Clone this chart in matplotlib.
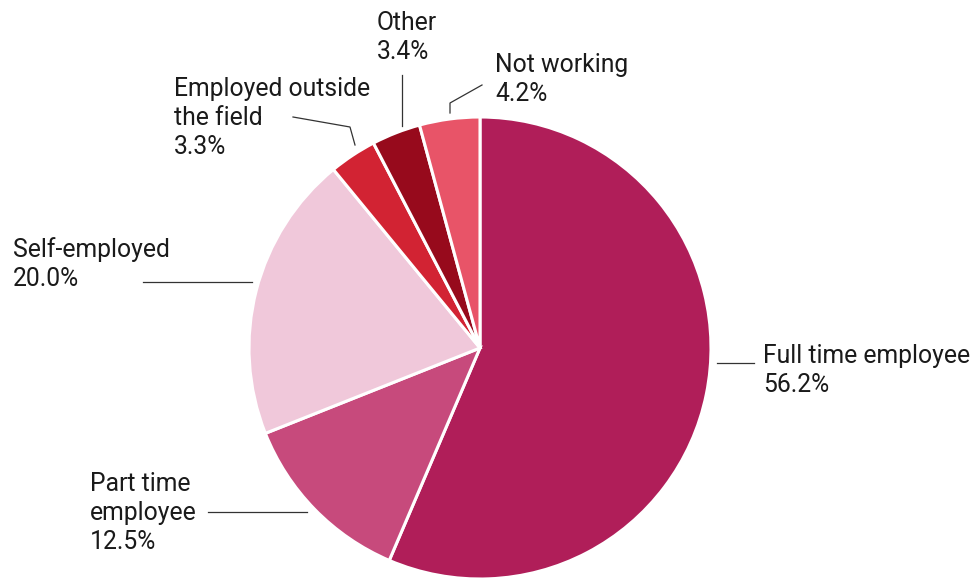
import matplotlib
matplotlib.use("Agg")
import matplotlib.pyplot as plt
from matplotlib.lines import Line2D

# Employment status shares (%)
categories = ["Full time employee", "Part time\nemployee", "Self-employed",
              "Employed outside\nthe field", "Other", "Not working"]
shares = [56.2, 12.5, 20.0, 3.3, 3.4, 4.2]
colors = ["#B01E59", "#C74A7C", "#F0C8DA", "#D22333", "#970A1C", "#E85468"]

W, H = 972, 581
fig = plt.figure(figsize=(W / 100, H / 100), dpi=100)
fig.patch.set_facecolor("white")

FONT = ["Roboto", "DejaVu Sans"]
TEXT_COLOR = "#1a1a1a"
LINE_COLOR = "#333333"
LINE_STEP = 29  # px between label baselines


def fx(x):
    return x / W


def fy(y):
    return 1 - y / H


# Pie axes: centre (480, 348) px, radius 231 px
cx, cy, r = 480, 348, 231
ax = fig.add_axes([fx(cx - r), fy(cy + r), 2 * r / W, 2 * r / H])
ax.pie(shares, colors=colors, startangle=90, counterclock=False,
       wedgeprops=dict(edgecolor="white", linewidth=2.2))
ax.set_xlim(-1, 1)
ax.set_ylim(-1, 1)
ax.set_aspect("equal")
ax.axis("off")

# Label layout: first-line baseline (px) and leader path (px)
label_pos = [(763, 363), (90, 491), (13, 257), (174, 96), (377, 30), (495, 72)]
leaders = [
    [(717, 363), (754, 363)],
    [(208, 512), (307, 512)],
    [(143, 282), (252, 282)],
    [(293, 117), (350, 127), (355, 145)],
    [(402, 75), (402, 126)],
    [(482, 85), (450, 103), (450, 113)],
]

for name, val, (tx, ty), path in zip(categories, shares, label_pos, leaders):
    label = f"{name}\n{val:.1f}%"
    n_lines = label.count("\n") + 1
    # va="baseline" anchors the last line's baseline
    fig.text(fx(tx), fy(ty + LINE_STEP * (n_lines - 1)), label,
             ha="left", va="baseline", fontsize=17.8, family=FONT,
             color=TEXT_COLOR, linespacing=1.26)
    xs = [fx(p[0]) for p in path]
    ys = [fy(p[1]) for p in path]
    fig.add_artist(Line2D(xs, ys, color=LINE_COLOR, linewidth=0.9,
                          transform=fig.transFigure))

fig.savefig("out.png", dpi=100, facecolor="white")
